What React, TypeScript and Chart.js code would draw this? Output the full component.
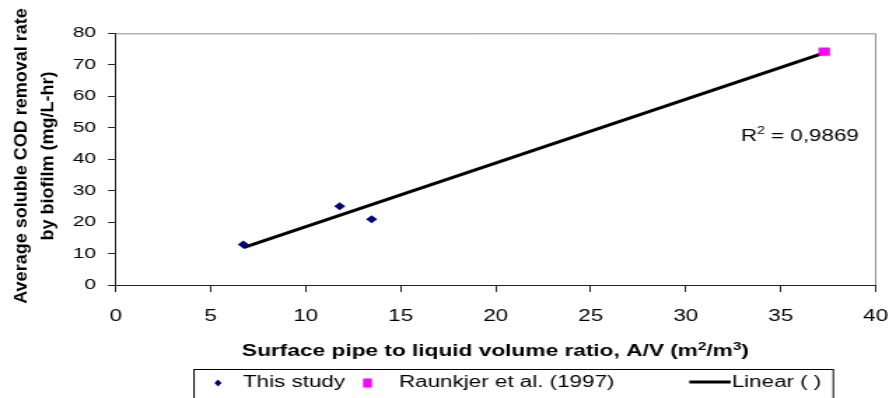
import React, { useEffect, useRef } from "react";
import { Chart, registerables } from "chart.js";
Chart.register(...registerables);

const thisStudyX = [6.72, 11.79, 13.47];
const thisStudyY = [12.9, 25.0, 20.9];
const raunkjerX = [37.29];
const raunkjerY = [74.2];
const linearX = [6.72, 37.25];
const linearY = [11.9, 73.7];
const xTicks = [0, 5, 10, 15, 20, 25, 30, 35, 40];
const yTicks = [0, 10, 20, 30, 40, 50, 60, 70, 80];
const r2Label = "0,9869";

// the reference renders horizontal text/marks widened; draw on a narrower canvas, stretch by S
const S = 1.4;
const W = 889;
const H = 398;
const CW = Math.round(W / S); // 635
const LEFT = 115.7 / S;
const RIGHT = 875.7 / S;
const TOP = 33.3;
const BOTTOM = 285;
const FONT = "Arial, 'Liberation Sans', sans-serif";

export default function App() {
  const ref = useRef<HTMLCanvasElement>(null);
  useEffect(() => {
    const ctx = ref.current!.getContext("2d")!;
    const overlay = {
      id: "overlay",
      afterDraw(chart: any) {
        const c = chart.ctx;
        const a = chart.chartArea;
        c.save();
        // frame (top + right)
        c.strokeStyle = "#8c8c8c";
        c.lineWidth = 1;
        c.beginPath();
        c.moveTo(a.left, a.top + 0.5);
        c.lineTo(a.right, a.top + 0.5);
        c.lineTo(a.right, a.bottom);
        c.stroke();
        // R squared
        const xs = chart.scales.x;
        const ys = chart.scales.y;
        c.fillStyle = "#000";
        c.textBaseline = "alphabetic";
        c.textAlign = "left";
        let px = xs.getPixelForValue(32.9);
        const py = ys.getPixelForValue(45.9);
        c.font = `16px ${FONT}`;
        c.fillText("R", px, py);
        px += c.measureText("R").width;
        c.font = `10px ${FONT}`;
        c.fillText("2", px, py - 7);
        px += c.measureText("2").width;
        c.font = `16px ${FONT}`;
        c.fillText(" = " + r2Label, px, py);
        // y title (rotated, not widened)
        c.save();
        c.translate(0, 156);
        c.scale(1 / S, 1);
        c.font = `bold 18px ${FONT}`;
        c.textAlign = "center";
        c.textBaseline = "alphabetic";
        c.save();
        c.translate(26, 0);
        c.rotate(-Math.PI / 2);
        c.fillText("Average soluble COD removal rate", 0, 0);
        c.restore();
        c.save();
        c.translate(52.5, 0);
        c.rotate(-Math.PI / 2);
        c.fillText("by biofilm (mg/L-hr)", 0, 0);
        c.restore();
        c.restore();
        // x title with superscripts
        const parts: [string, boolean][] = [
          ["Surface pipe to liquid volume ratio, A/V (m", false],
          ["2", true],
          ["/m", false],
          ["3", true],
          [")", false],
        ];
        const big = `bold 16.2px ${FONT}`;
        const small = `bold 11px ${FONT}`;
        let total = 0;
        for (const [t, sup] of parts) {
          c.font = sup ? small : big;
          total += c.measureText(t).width;
        }
        let tx = 495.5 / S - total / 2;
        const ty = 356;
        c.textAlign = "left";
        for (const [t, sup] of parts) {
          c.font = sup ? small : big;
          c.fillText(t, tx, sup ? ty - 6 : ty);
          tx += c.measureText(t).width;
        }
        // legend
        c.strokeStyle = "#000";
        c.lineWidth = 1;
        const bl = 194 / S;
        const br = 833.3 / S;
        c.strokeRect(bl, 369.5, br - bl, 40);
        const ly = 383;
        c.font = `16px ${FONT}`;
        c.textBaseline = "middle";
        c.fillStyle = "#000080";
        const dx = 218 / S;
        c.beginPath();
        c.moveTo(dx, ly - 3.5);
        c.lineTo(dx + 2.6, ly);
        c.lineTo(dx, ly + 3.5);
        c.lineTo(dx - 2.6, ly);
        c.closePath();
        c.fill();
        c.fillStyle = "#000";
        c.fillText("This study", 243 / S, ly);
        c.fillStyle = "#ff00ff";
        c.fillRect(363 / S, ly - 4.5, 9 / S, 9);
        c.fillStyle = "#000";
        c.fillText("Raunkjer et al. (1997)", 399 / S, ly);
        c.strokeStyle = "#000";
        c.lineWidth = 3;
        c.beginPath();
        c.moveTo(689.3 / S, ly - 1);
        c.lineTo(730.7 / S, ly - 1);
        c.stroke();
        c.fillText("Linear ( )", 731.7 / S, ly);
        c.restore();
      },
    };
    const chart = new Chart(ctx, {
      type: "scatter",
      data: {
        datasets: [
          {
            label: "This study",
            data: thisStudyX.map((x, i) => ({ x, y: thisStudyY[i] })),
            pointStyle: "rectRot",
            pointRadius: 4,
            backgroundColor: "#000080",
            borderColor: "#000080",
            borderWidth: 0,
          },
          {
            label: "Raunkjer et al. (1997)",
            data: raunkjerX.map((x, i) => ({ x, y: raunkjerY[i] })),
            pointStyle: "rect",
            pointRadius: 5.8,
            backgroundColor: "#ff00ff",
            borderColor: "#ff00ff",
            borderWidth: 0,
          },
          {
            label: "Linear ( )",
            data: linearX.map((x, i) => ({ x, y: linearY[i] })),
            showLine: true,
            pointRadius: 0,
            borderColor: "#000",
            borderWidth: 3,
            order: 5,
          } as any,
        ],
      },
      options: {
        animation: false,
        responsive: false,
        devicePixelRatio: 1,
        layout: { padding: { top: TOP, right: CW - RIGHT, left: 0, bottom: 0 } },
        plugins: { legend: { display: false }, tooltip: { enabled: false } },
        scales: {
          x: {
            type: "linear",
            min: 0,
            max: 40,
            afterBuildTicks: (s: any) => {
              s.ticks = xTicks.map((v) => ({ value: v }));
            },
            afterFit: (s: any) => {
              s.height = H - BOTTOM;
              s.paddingLeft = 0;
              s.paddingRight = 0;
            },
            ticks: {
              color: "#000",
              font: { family: FONT, size: 16 },
              padding: 15,
              maxRotation: 0,
            },
            grid: {
              drawOnChartArea: false,
              drawTicks: true,
              tickLength: 7,
              color: "#222",
            },
            border: { color: "#222", width: 1 },
          },
          y: {
            type: "linear",
            min: 0,
            max: 80,
            afterBuildTicks: (s: any) => {
              s.ticks = yTicks.map((v) => ({ value: v }));
            },
            afterFit: (s: any) => {
              s.width = LEFT;
              s.paddingTop = 0;
              s.paddingBottom = 0;
            },
            ticks: {
              color: "#000",
              font: { family: FONT, size: 15 },
              padding: 8.5,
            },
            grid: {
              drawOnChartArea: false,
              drawTicks: true,
              tickLength: 5.5,
              color: "#222",
            },
            border: { color: "#222", width: 1 },
          },
        },
      },
      plugins: [overlay],
    });
    return () => chart.destroy();
  }, []);
  return (
    <div style={{ position: "fixed", left: 0, top: 0, width: W, height: H, background: "#fff", overflow: "hidden" }}>
      <div style={{ width: CW, height: H, transform: `scaleX(${W / CW})`, transformOrigin: "0 0" }}>
        <canvas ref={ref} width={CW} height={H} style={{ width: CW, height: H, display: "block" }} />
      </div>
    </div>
  );
}
